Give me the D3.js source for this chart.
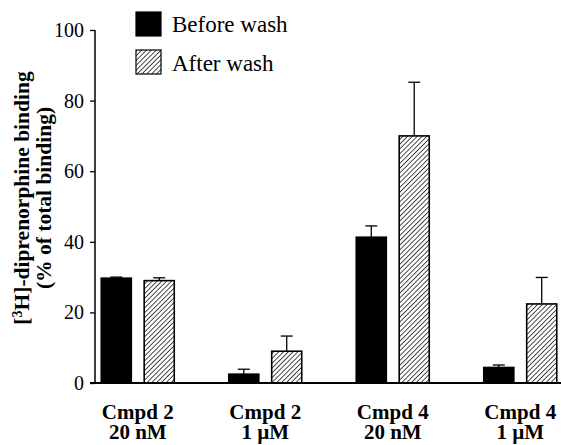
<!DOCTYPE html>
<html>
<head>
<meta charset="utf-8">
<script src="https://cdn.jsdelivr.net/npm/d3@7"></script>
<style>
  body { margin: 0; background: #fff; }
  svg { display: block; }
  text { font-family: "Liberation Serif", "Times New Roman", serif; fill: #000; }
</style>
</head>
<body>
<div id="chart"></div>
<script>
// values
var groups = ["Cmpd 2|20 nM", "Cmpd 2|1 \u00b5M", "Cmpd 4|20 nM", "Cmpd 4|1 \u00b5M"];
var series = ["Before wash", "After wash"];
var beforeWash = [29.7, 2.5, 41.3, 4.4];
var beforeErr = [0.3, 1.4, 3.2, 0.7];
var afterWash = [29.0, 9.0, 70.0, 22.4];
var afterErr = [0.8, 4.3, 15.2, 7.5];
var yTicks = [0, 20, 40, 60, 80, 100];

var width = 561, height = 445;
var svg = d3.select("#chart").append("svg")
  .attr("width", width).attr("height", height);

var defs = svg.append("defs");
var pat = defs.append("pattern")
  .attr("id", "hatch")
  .attr("patternUnits", "userSpaceOnUse")
  .attr("width", 3.4).attr("height", 3.4)
  .attr("patternTransform", "rotate(45)");
pat.append("rect").attr("width", 3.4).attr("height", 3.4).attr("fill", "#fff");
pat.append("line")
  .attr("x1", 0).attr("y1", 0).attr("x2", 0).attr("y2", 3.4)
  .attr("stroke", "#000").attr("stroke-width", 1.4);

var x0 = d3.scaleBand().domain(groups).range([74, 584]).paddingInner(0).paddingOuter(0);
var x1 = d3.scaleBand().domain(series).range([0, 73]).paddingInner(0.3);
var y = d3.scaleLinear().domain([0, 100]).range([383, 30]);

var rows = [];
groups.forEach(function(g, i) {
  rows.push({g: g, s: series[0], v: beforeWash[i], e: beforeErr[i]});
  rows.push({g: g, s: series[1], v: afterWash[i], e: afterErr[i]});
});
function bx(d) {
  return x0(d.g) + (x0.bandwidth() - 73) / 2 + x1(d.s);
}

// error bars (drawn first so bar covers the lower part)
var eb = svg.append("g").attr("stroke", "#000").attr("stroke-width", 1.3);
rows.forEach(function(d) {
  var cx = bx(d) + x1.bandwidth() / 2;
  eb.append("line").attr("x1", cx).attr("x2", cx)
    .attr("y1", y(d.v)).attr("y2", y(d.v + d.e));
  eb.append("line").attr("x1", cx - 6).attr("x2", cx + 6)
    .attr("y1", y(d.v + d.e)).attr("y2", y(d.v + d.e));
});

svg.append("g").selectAll("rect").data(rows).join("rect")
  .attr("x", bx)
  .attr("y", function(d) { return y(d.v); })
  .attr("width", x1.bandwidth())
  .attr("height", function(d) { return y(0) - y(d.v); })
  .attr("fill", function(d) { return d.s === series[0] ? "#000" : "url(#hatch)"; })
  .attr("stroke", "#000").attr("stroke-width", 1.6);

// y axis
var yAxis = svg.append("g").attr("transform", "translate(95,0)")
  .call(d3.axisLeft(y).tickValues(yTicks).tickSize(5).tickPadding(6));
yAxis.select(".domain").attr("d", "M0," + y(100) + "V" + y(0)).attr("stroke-width", 1.5);
yAxis.selectAll("text").style("font-size", "20px").style("font-family", "Liberation Serif, serif");
yAxis.selectAll(".tick line").attr("stroke-width", 1.3);

// baseline
svg.append("line").attr("x1", 90).attr("x2", width)
  .attr("y1", y(0)).attr("y2", y(0))
  .attr("stroke", "#000").attr("stroke-width", 2);

// group labels (two lines each)
var gl = svg.append("g").selectAll("g").data(groups).join("g");
gl.each(function(g) {
  var parts = g.split("|");
  var cx = x0(g) + x0.bandwidth() / 2;
  var t = d3.select(this);
  parts.forEach(function(p, k) {
    t.append("text").attr("x", cx).attr("y", 419 + k * 20)
      .attr("text-anchor", "middle").attr("font-weight", "bold")
      .style("font-size", "21px").text(p);
  });
});

// y label, two lines
var yl = svg.append("text")
  .attr("transform", "translate(29,198) rotate(-90)")
  .attr("text-anchor", "middle").attr("font-weight", "bold")
  .style("font-size", "21.5px");
yl.append("tspan").text("[");
yl.append("tspan").attr("baseline-shift", "super").style("font-size", "14px").text("3");
yl.append("tspan").text("H]-diprenorphine binding");
svg.append("text")
  .attr("transform", "translate(51,198) rotate(-90)")
  .attr("text-anchor", "middle").attr("font-weight", "bold")
  .style("font-size", "21.5px")
  .text("(% of total binding)");

// legend
var lg = svg.append("g").attr("transform", "translate(136,12)");
series.forEach(function(s, i) {
  lg.append("rect").attr("x", 0).attr("y", i * 38).attr("width", 25).attr("height", 24)
    .attr("fill", i === 0 ? "#000" : "url(#hatch)")
    .attr("stroke", "#000").attr("stroke-width", 1.2);
  lg.append("text").attr("x", 36).attr("y", i * 39 + 20)
    .style("font-size", "23px").text(s);
});
</script>
</body>
</html>
